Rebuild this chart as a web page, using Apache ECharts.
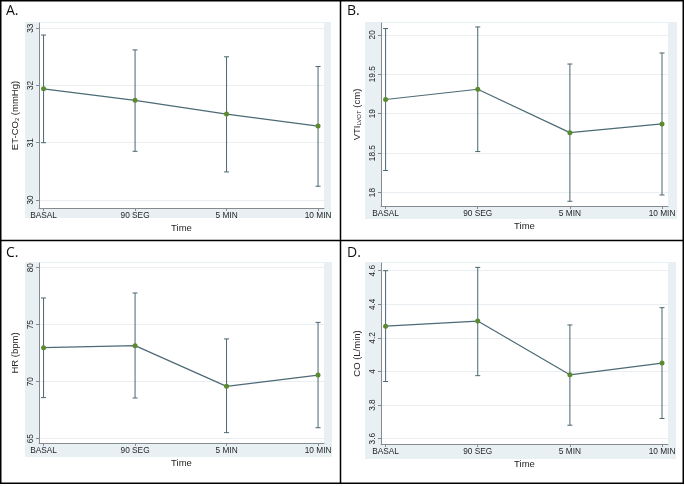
<!DOCTYPE html>
<html>
<head>
<meta charset="utf-8">
<script src="https://cdn.jsdelivr.net/npm/echarts@6/dist/echarts.min.js"></script>
<style>
html,body{margin:0;padding:0;background:#fff;}
#chart{width:685px;height:486px;}
</style>
</head>
<body>
<div id="chart"></div>
<script>
// ---- data ----
const categories = ['BASAL', '90 SEG', '5 MIN', '10 MIN'];
const catIndex = [0, 1, 2, 3];

const etco2Mean = [31.94, 31.74, 31.50, 31.29];
const etco2Low  = [31.00, 30.85, 30.49, 30.24];
const etco2High = [32.88, 32.62, 32.50, 32.33];
const etco2Ticks = [30, 31, 32, 33];

const vtiMean = [19.18, 19.31, 18.76, 18.87];
const vtiLow  = [18.28, 18.52, 17.89, 17.97];
const vtiHigh = [20.08, 20.10, 19.63, 19.77];
const vtiTicks = [18, 18.5, 19, 19.5, 20];

const hrMean = [72.98, 73.16, 69.59, 70.58];
const hrLow  = [68.60, 68.57, 65.53, 65.96];
const hrHigh = [77.34, 77.78, 73.75, 75.20];
const hrTicks = [65, 70, 75, 80];

const coMean = [4.27, 4.30, 3.98, 4.05];
const coLow  = [3.94, 3.975, 3.68, 3.72];
const coHigh = [4.60, 4.62, 4.277, 4.38];
const coTicks = [3.6, 3.8, 4, 4.2, 4.4, 4.6];

const panelLabels = ['A.', 'B.', 'C.', 'D.'];
const yTitles = [
  '{a|ET-CO}{s|2}{a| (mmHg)}',
  '{a|VTI}{s|LVOT}{a| (cm)}',
  '{a|HR (bpm)}',
  '{a|CO (L/min)}'
];
const xTitle = 'Time';

// ---- layout ----
const grids = [
  {left: 39, top: 23, width: 285, height: 185},
  {left: 381, top: 23, width: 287, height: 183},
  {left: 39, top: 263, width: 285, height: 180},
  {left: 381, top: 263, width: 287, height: 181}
];
const regions = [
  {x: 25, y: 22, w: 306, h: 196},
  {x: 365, y: 22, w: 312, h: 197},
  {x: 25, y: 262, w: 307, h: 195},
  {x: 365, y: 262, w: 311, h: 197}
];
const yRanges = [[29.86, 33.09], [17.83, 20.15], [64.62, 80.41], [3.568, 4.646]];
const panels = [
  {mean: etco2Mean, low: etco2Low, high: etco2High, ticks: etco2Ticks},
  {mean: vtiMean, low: vtiLow, high: vtiHigh, ticks: vtiTicks},
  {mean: hrMean, low: hrLow, high: hrHigh, ticks: hrTicks},
  {mean: coMean, low: coLow, high: coHigh, ticks: coTicks}
];

const FONT = 'Liberation Sans, Arial, sans-serif';
const axisColor = '#858b8f';
const textColor = '#262626';
const lineColor = '#4c6b75';
const barColor = '#4a6670';
const markerColor = '#5b8a30';
const gridColor = '#e8eef1';
const regionColor = '#e8f0f3';

const xAxes = [], yAxes = [], series = [], gridOpts = [];
panels.forEach((p, i) => {
  gridOpts.push(Object.assign({containLabel: false}, grids[i]));
  xAxes.push({
    type: 'value', gridIndex: i, min: -0.05, max: 3.065,
    name: xTitle, nameLocation: 'middle', nameGap: 15,
    nameTextStyle: {fontFamily: FONT, fontSize: 9.5, color: textColor},
    axisLine: {show: true, onZero: false, lineStyle: {color: axisColor, width: 1}},
    axisTick: {show: true, length: 3, customValues: catIndex, lineStyle: {color: axisColor}},
    axisLabel: {customValues: catIndex, margin: 4, fontFamily: FONT, fontSize: 8.3, color: textColor,
      formatter: v => categories[Math.round(v)] || ''},
    splitLine: {show: false}
  });
  yAxes.push({
    type: 'value', gridIndex: i, min: yRanges[i][0], max: yRanges[i][1],
    name: yTitles[i], nameLocation: 'middle', nameGap: 19, nameRotate: 90,
    nameTextStyle: {fontFamily: FONT, color: textColor,
      rich: {a: {fontFamily: FONT, fontSize: 9.5, color: textColor},
             s: {fontFamily: FONT, fontSize: 6, color: textColor, verticalAlign: 'bottom', padding: [4, 0, 0, 0]}}},
    axisLine: {show: true, onZero: false, lineStyle: {color: axisColor, width: 1}},
    axisTick: {show: true, length: 3, customValues: p.ticks, lineStyle: {color: axisColor}},
    axisLabel: {customValues: p.ticks, rotate: 90, margin: 4, fontFamily: FONT, fontSize: 8.3, color: textColor},
    splitLine: {show: true, lineStyle: {color: gridColor, width: 1}}
  });
  const barData = catIndex.map(k => [k, p.low[k], p.high[k]]);
  series.push({
    type: 'custom', xAxisIndex: i, yAxisIndex: i, z: 3,
    data: barData, encode: {x: 0, y: [1, 2]},
    renderItem: (params, api) => {
      const x = api.value(0);
      const a = api.coord([x, api.value(1)]);
      const b = api.coord([x, api.value(2)]);
      const cw = 2.5;
      const st = {stroke: barColor, lineWidth: 1};
      return {type: 'group', children: [
        {type: 'line', shape: {x1: a[0], y1: a[1], x2: b[0], y2: b[1]}, style: st},
        {type: 'line', shape: {x1: a[0] - cw, y1: a[1], x2: a[0] + cw, y2: a[1]}, style: st},
        {type: 'line', shape: {x1: b[0] - cw, y1: b[1], x2: b[0] + cw, y2: b[1]}, style: st}
      ]};
    },
    silent: true
  });
  series.push({
    type: 'line', xAxisIndex: i, yAxisIndex: i, z: 4,
    data: catIndex.map(k => [k, p.mean[k]]),
    symbol: 'circle', symbolSize: 5, showSymbol: true,
    lineStyle: {color: lineColor, width: 1.2},
    itemStyle: {color: markerColor, borderWidth: 0},
    animation: false, silent: true
  });
});

const graphics = [];
regions.forEach((r, i) => {
  graphics.push({type: 'rect', z: -10, shape: {x: r.x, y: r.y, width: r.w, height: r.h}, style: {fill: regionColor}});
  const g = grids[i];
  graphics.push({type: 'rect', z: -9, shape: {x: g.left, y: g.top, width: g.width, height: g.height}, style: {fill: '#ffffff'}});
});
const labelPos = [[6, 4], [347, 4], [6, 246], [347, 246]];
panelLabels.forEach((t, i) => {
  graphics.push({type: 'text', z: 50, x: labelPos[i][0], y: labelPos[i][1],
    style: {text: t, fontFamily: 'Open Sans, Liberation Sans, sans-serif', fontSize: 14, fill: '#111'}});
});
// panel frames
graphics.push({type: 'rect', z: 60, shape: {x: 0.75, y: 0.75, width: 682.5, height: 482.5}, style: {fill: 'none', stroke: '#000', lineWidth: 1.5}});
graphics.push({type: 'line', z: 60, shape: {x1: 340.5, y1: 0, x2: 340.5, y2: 484}, style: {stroke: '#000', lineWidth: 1.5}});
graphics.push({type: 'line', z: 60, shape: {x1: 0, y1: 240.5, x2: 684, y2: 240.5}, style: {stroke: '#000', lineWidth: 1.5}});

const chart = echarts.init(document.getElementById('chart'), null, {renderer: 'canvas'});
chart.setOption({
  backgroundColor: '#ffffff',
  animation: false,
  grid: gridOpts,
  xAxis: xAxes,
  yAxis: yAxes,
  series: series,
  graphic: graphics
});
</script>
</body>
</html>
